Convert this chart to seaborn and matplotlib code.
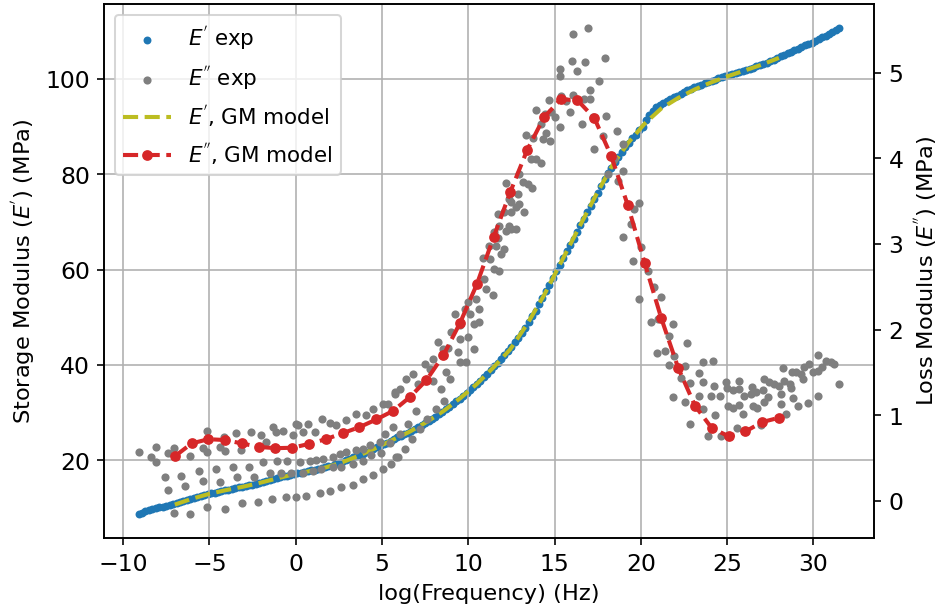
import matplotlib
matplotlib.use("Agg")
import matplotlib.pyplot as plt
import seaborn as sns

### E' experimental points (storage modulus, MPa)
blue_x = [-9.07, -8.9, -8.7, -8.5, -8.3, -8.1, -7.9, -7.7, -7.5, -7.3,
          -7.1, -6.9, -6.7, -6.5, -6.3, -6.1, -5.9, -5.7, -5.5, -5.3,
          -5.1, -4.9, -4.7, -4.5, -4.3, -4.1, -3.9, -3.7, -3.5, -3.3,
          -3.1, -2.9, -2.7, -2.5, -2.3, -2.1, -1.9, -1.7, -1.5, -1.3,
          -1.1, -0.9, -0.7, -0.5, -0.3, -0.1, 0.1, 0.3, 0.5, 0.7,
          0.9, 1.1, 1.3, 1.5, 1.7, 1.9, 2.1, 2.3, 2.5, 2.7,
          2.9, 3.1, 3.3, 3.5, 3.7, 3.9, 4.1, 4.3, 4.5, 4.7,
          4.9, 5.1, 5.3, 5.5, 5.7, 5.9, 6.1, 6.3, 6.5, 6.7,
          6.9, 7.1, 7.3, 7.5, 7.7, 7.9, 8.1, 8.3, 8.5, 8.7,
          8.9, 9.1, 9.3, 9.5, 9.7, 9.9, 10.1, 10.3, 10.5, 10.7,
          10.9, 11.1, 11.3, 11.5, 11.7, 11.9, 12.1, 12.3, 12.5, 12.7,
          12.9, 13.1, 13.3, 13.5, 13.7, 13.9, 14.1, 14.3, 14.5, 14.7,
          14.9, 15.1, 15.3, 15.5, 15.7, 15.9, 16.1, 16.3, 16.5, 16.7,
          16.9, 17.1, 17.3, 17.5, 17.7, 17.9, 18.1, 18.3, 18.5, 18.7,
          18.9, 19.1, 19.3, 19.5, 19.7, 19.9, 20.1, 20.3, 20.5, 20.7,
          20.9, 21.1, 21.3, 21.5, 21.7, 21.9, 22.1, 22.3, 22.5, 22.7,
          22.9, 23.1, 23.3, 23.5, 23.7, 23.9, 24.1, 24.3, 24.5, 24.7,
          24.9, 25.1, 25.3, 25.5, 25.7, 25.9, 26.1, 26.3, 26.5, 26.7,
          26.9, 27.1, 27.3, 27.5, 27.7, 27.9, 28.1, 28.3, 28.5, 28.7,
          28.9, 29.1, 29.3, 29.5, 29.7, 29.9, 30.1, 30.3, 30.5, 30.7,
          30.9, 31.1, 31.3, 31.5]
blue_y = [8.8, 9.0, 9.3, 9.5, 9.8, 9.9, 10.1, 10.3, 10.5, 10.7,
          10.9, 11.1, 11.3, 11.5, 11.7, 11.9, 12.1, 12.3, 12.5, 12.7,
          12.9, 13.1, 13.2, 13.4, 13.5, 13.7, 13.8, 14.0, 14.1, 14.3,
          14.4, 14.6, 14.8, 14.9, 15.1, 15.3, 15.5, 15.7, 15.9, 16.1,
          16.3, 16.4, 16.6, 16.8, 16.9, 17.1, 17.3, 17.4, 17.6, 17.7,
          17.9, 18.0, 18.2, 18.3, 18.5, 18.7, 18.9, 19.2, 19.4, 19.7,
          20.0, 20.3, 20.6, 20.8, 21.1, 21.4, 21.7, 22.0, 22.3, 22.7,
          23.0, 23.4, 23.7, 24.1, 24.4, 24.8, 25.1, 25.5, 25.8, 26.2,
          26.5, 26.9, 27.3, 27.8, 28.2, 28.7, 29.1, 29.6, 30.1, 30.7,
          31.2, 31.8, 32.4, 32.9, 33.5, 34.1, 34.7, 35.3, 36.0, 36.7,
          37.4, 38.1, 38.9, 39.7, 40.5, 41.2, 42.0, 42.9, 43.8, 44.7,
          45.7, 46.7, 47.8, 49.0, 50.2, 51.4, 52.7, 54.0, 55.4, 56.8,
          58.2, 59.6, 61.0, 62.4, 63.8, 65.1, 66.5, 67.9, 69.3, 70.6,
          72.0, 73.4, 74.8, 76.1, 77.5, 78.9, 80.2, 81.4, 82.5, 83.6,
          84.6, 85.6, 86.6, 87.5, 88.3, 89.2, 90.0, 91.3, 92.5, 93.3,
          94.0, 94.6, 95.0, 95.4, 95.8, 96.2, 96.5, 96.9, 97.2, 97.6,
          97.9, 98.2, 98.5, 98.8, 99.1, 99.3, 99.6, 99.8, 100.1, 100.4,
          100.6, 100.8, 101.0, 101.2, 101.5, 101.7, 101.9, 102.1, 102.3, 102.6,
          102.8, 103.1, 103.4, 103.7, 104.0, 104.3, 104.7, 105.0, 105.4, 105.7,
          106.0, 106.3, 106.7, 107.0, 107.3, 107.6, 108.0, 108.3, 108.7, 109.0,
          109.4, 109.8, 110.2, 110.6]

### E'' experimental points (loss modulus, MPa)
gray_x = [-9.07, -8.36, -8.11, -8.07, -7.39, -7.06, -7.58, -7.39, -7.06, -6.62,
          -6.43, -6.10, -6.10, -5.62, -5.37, -5.37, -5.14, -5.11, -5.11, -4.63,
          -4.40, -4.17, -4.11, -4.40, -4.11, -3.63, -3.43, -3.40, -3.14, -3.09,
          -2.70, -2.56, -2.43, -2.18, -1.99, -1.89, -1.74, -1.51, -1.37, -1.31,
          -1.12, -1.06, -0.74, -0.83, -0.54, -0.50, -0.16, -0.25, 0.04, 0.04,
          0.13, 0.71, 0.42, 1.10, 1.55, 1.97, 2.36, 2.94, 3.51, 4.09,
          4.48, 5.05, 5.34, 5.73, 0.23, 0.81, 1.20, 1.58, 2.16, 2.55,
          2.94, 3.51, 3.90, 4.28, 4.86, 5.15, 5.63, 5.83, 0.42, 1.00,
          1.49, 2.16, 2.65, 3.32, 3.90, 4.38, 4.96, 5.44, 0.62, 1.39,
          1.97, 2.65, 3.32, 3.90, 4.48, 5.05, 5.54, 5.92, 6.31, 6.77,
          7.18, 7.64, 8.11, 8.57, 6.02, 6.49, 6.95, 5.73, 6.02, 6.41,
          6.79, 7.08, 7.47, 7.76, 7.95, 7.95, 8.44, 8.24, 8.53, 8.82,
          8.92, 8.73, 9.01, 9.40, 9.50, 9.50, 9.88, 9.26, 9.50, 9.98,
          10.31, 10.36, 9.79, 9.98, 10.12, 10.65, 10.65, 10.46, 10.89, 11.04,
          11.42, 11.52, 10.84, 11.27, 11.81, 11.91, 12.10, 11.62, 11.81, 12.20,
          12.39, 11.71, 12.10, 12.49, 12.97, 13.26, 11.23, 11.52, 11.71, 12.49,
          12.78, 12.49, 12.74, 12.20, 12.39, 12.87, 12.97, 13.20, 13.45, 13.71,
          13.65, 13.90, 14.23, 13.36, 13.74, 14.32, 14.48, 14.75, 13.94, 14.23,
          14.42, 14.67, 14.80, 15.05, 15.38, 15.34, 15.67, 15.92, 16.06, 16.60,
          16.73, 17.06, 17.06, 17.25, 17.99, 17.60, 17.95, 16.79, 16.31, 16.02,
          15.30, 15.30, 16.06, 16.92, 17.31, 17.79, 18.60, 18.95, 18.47, 18.66,
          18.08, 18.95, 19.63, 19.92, 19.44, 18.95, 20.02, 19.57, 20.44, 20.79,
          21.19, 19.92, 20.60, 20.98, 21.89, 21.61, 22.66, 20.92, 21.41, 21.94,
          21.61, 22.58, 23.58, 24.20, 22.33, 22.85, 23.35, 23.62, 24.26, 21.89,
          22.58, 23.35, 24.07, 24.59, 23.58, 24.32, 22.85, 23.87, 24.65, 24.94,
          24.97, 25.32, 25.71, 25.67, 25.03, 25.32, 25.71, 25.96, 25.94, 26.44,
          26.38, 26.67, 26.48, 26.71, 27.11, 27.06, 27.35, 27.16, 27.44, 27.73,
          28.02, 28.12, 28.12, 28.31, 28.64, 28.70, 28.26, 28.76, 28.99, 29.28,
          29.37, 28.79, 29.12, 29.70, 28.41, 26.96, 25.55, 29.47, 29.76, 29.95,
          30.24, 30.50, 30.24, 30.73, 31.02, 31.21, 31.50, 30.24]
gray_y = [0.57, 0.51, 0.63, 0.45, 0.56, 0.62, 0.28, 0.13, -0.14, 0.29,
          0.17, 0.52, -0.15, 0.35, 0.62, 0.23, 0.81, 0.57, -0.07, 0.37,
          0.63, 0.75, 0.58, 0.22, -0.09, 0.39, 0.79, 0.28, 0.59, -0.03,
          0.39, 0.80, 0.28, -0.01, 0.77, 0.45, 0.69, 0.32, 0.02, 0.86,
          0.80, 0.46, 0.82, 0.33, 0.04, 0.46, 0.77, 0.32, 0.04, 0.90,
          0.88, 0.90, 0.80, 0.80, 0.96, 0.91, 0.89, 0.94, 1.02, 1.00,
          1.07, 1.13, 1.13, 1.25, 0.45, 0.46, 0.48, 0.49, 0.51, 0.55,
          0.57, 0.59, 0.61, 0.65, 0.69, 0.78, 0.86, 0.51, 0.33, 0.35,
          0.37, 0.39, 0.40, 0.43, 0.47, 0.53, 0.56, 0.67, 0.06, 0.09,
          0.11, 0.16, 0.19, 0.25, 0.30, 0.37, 0.43, 0.51, 0.61, 0.72,
          0.84, 0.96, 1.07, 1.17, 0.78, 0.90, 1.05, 1.27, 1.31, 1.42,
          1.48, 1.37, 1.60, 1.54, 1.66, 1.40, 1.31, 1.85, 1.77, 1.79,
          1.42, 1.50, 1.97, 1.74, 1.89, 1.62, 1.62, 2.18, 2.05, 1.91,
          1.77, 2.07, 2.24, 2.32, 2.18, 2.09, 2.24, 2.36, 2.59, 2.47,
          2.40, 2.71, 2.84, 2.82, 2.69, 2.88, 2.94, 2.98, 3.21, 3.15,
          3.21, 3.35, 3.37, 3.49, 3.47, 3.37, 2.98, 3.14, 3.07, 3.17,
          3.17, 3.37, 3.43, 3.71, 3.52, 3.58, 3.82, 3.72, 3.70, 3.66,
          3.99, 3.99, 3.95, 4.27, 4.24, 4.23, 4.30, 4.20, 4.57, 4.40,
          4.52, 4.68, 4.54, 4.48, 4.73, 4.37, 4.67, 4.54, 4.74, 4.40,
          4.69, 4.69, 4.80, 4.48, 4.49, 4.90, 5.17, 5.13, 5.02, 5.14,
          4.96, 5.04, 5.45, 5.52, 4.11, 4.26, 4.32, 4.17, 3.99, 3.74,
          3.82, 3.85, 3.41, 3.48, 3.23, 3.08, 2.96, 2.80, 2.68, 2.50,
          2.38, 2.36, 2.09, 2.12, 2.07, 1.92, 1.84, 1.73, 1.75, 1.69,
          1.59, 1.58, 1.62, 1.63, 1.43, 1.38, 1.49, 1.39, 1.34, 1.21,
          1.16, 1.23, 1.22, 1.23, 1.07, 1.00, 0.90, 0.76, 0.76, 1.39,
          1.32, 1.30, 1.40, 1.31, 1.11, 1.08, 1.12, 1.22, 1.02, 1.33,
          1.25, 1.27, 1.11, 1.09, 1.42, 1.29, 1.21, 1.15, 1.39, 1.37,
          1.34, 1.25, 1.13, 1.40, 1.37, 1.32, 1.55, 1.51, 1.51, 1.48,
          1.42, 1.20, 1.11, 1.14, 1.02, 0.88, 0.85, 1.56, 1.60, 1.50,
          1.52, 1.56, 1.70, 1.63, 1.62, 1.60, 1.37, 1.23]

### GM model evaluated points
model_x = [-7.0, -6.03, -5.06, -4.08, -3.11, -2.14, -1.17, -0.19, 0.78, 1.75,
           2.72, 3.69, 4.67, 5.64, 6.61, 7.58, 8.56, 9.53, 10.5, 11.47,
           12.44, 13.42, 14.39, 15.36, 16.33, 17.31, 18.28, 19.25, 20.22, 21.19,
           22.17, 23.14, 24.11, 25.08, 26.06, 27.03, 28.0]
storage_model = [10.7, 11.9, 12.9, 13.7, 14.4, 15.2, 16.1, 17.0, 17.7, 18.5,
                 19.6, 21.0, 22.6, 24.3, 26.0, 28.0, 30.3, 33.0, 36.0, 39.5,
                 43.3, 48.6, 54.6, 61.4, 68.2, 75.0, 81.4, 86.5, 90.6, 93.8,
                 96.0, 97.8, 99.3, 100.6, 101.8, 103.0, 104.4]
loss_model = [0.52, 0.67, 0.72, 0.71, 0.67, 0.63, 0.615, 0.62, 0.665, 0.72,
              0.79, 0.86, 0.95, 1.05, 1.21, 1.41, 1.70, 2.08, 2.53, 3.08,
              3.61, 4.10, 4.48, 4.69, 4.68, 4.47, 4.03, 3.45, 2.78, 2.13,
              1.55, 1.11, 0.85, 0.755, 0.81, 0.92, 0.97]

plt.rcParams["font.size"] = 11
plt.rcParams["xtick.labelsize"] = 11.5
plt.rcParams["ytick.labelsize"] = 11.5
plt.rcParams["legend.fontsize"] = 10.5

fig, ax = plt.subplots(figsize=(6.39, 4.18), dpi=147)
fig.subplots_adjust(left=0.1108, right=0.9308, bottom=0.1238, top=0.9927)
ax2 = ax.twinx()

sns.scatterplot(x=blue_x, y=blue_y, ax=ax, color="tab:blue", s=15, linewidth=0,
                label="$E^{'}$ exp")
sns.lineplot(x=model_x, y=storage_model, ax=ax, color="tab:olive", linestyle="--",
             lw=2, label="$E^{'}$, GM model")
sns.scatterplot(x=gray_x, y=gray_y, ax=ax2, color="tab:gray", s=16, linewidth=0,
                label="$E^{''}$ exp")
sns.lineplot(x=model_x, y=loss_model, ax=ax2, color="tab:red", linestyle="--", lw=2,
             marker="o", markersize=4.5, markeredgecolor="tab:red",
             label="$E^{''}$, GM model")

for a in (ax, ax2):
    if a.get_legend() is not None:
        a.get_legend().remove()

ax.grid(True, color="#b0b0b0", linewidth=0.8)
ax.set_xlabel("log(Frequency) (Hz)")
ax.set_ylabel("Storage Modulus ($E^{'}$) (MPa)")
ax2.set_ylabel("Loss Modulus ($E^{''}$) (MPa)")

#combined legend, same order as the original
h1, l1 = ax.get_legend_handles_labels()
h2, l2 = ax2.get_legend_handles_labels()
ax2.legend([h1[0], h2[0], h1[1], h2[1]], [l1[0], l2[0], l1[1], l2[1]],
           loc="upper left", handlelength=2.2)

fig.savefig("out.png", dpi=147)
